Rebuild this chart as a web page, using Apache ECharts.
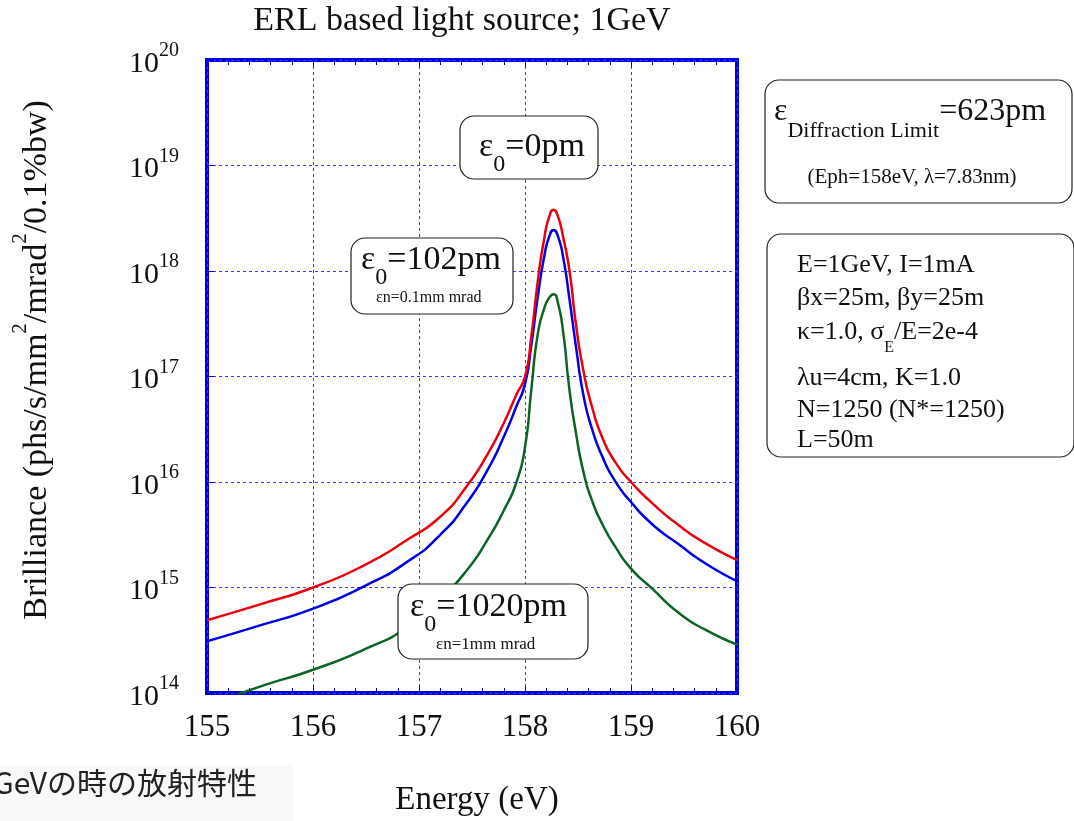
<!DOCTYPE html>
<html lang="en">
<head>
    <meta charset="UTF-8">
    <title>ERL based light source</title>
    <script src="https://cdn.jsdelivr.net/npm/echarts@6/dist/echarts.min.js"></script>
    <style>
        html, body { margin: 0; padding: 0; background: #fff; }
        #main { width: 1074px; height: 821px; }
    </style>
</head>
<body>
<div id="main"></div>
<script type="text/javascript">
    // photon energy (eV), shared by the three curves
    var energy = [155, 155.5, 156, 156.5, 156.9, 157.2, 157.45, 157.65, 157.8, 157.92, 158.0, 158.06, 158.12,
        158.18, 158.23, 158.27, 158.31, 158.36, 158.42, 158.48, 158.55, 158.63, 158.73, 158.85, 159.0, 159.2,
        159.45, 159.7, 160];

    // brilliance (phs/s/mm2/mrad2/0.1%bw)
    var eps0pm = [4.9e14, 6.92e14, 1.0e15, 1.66e15, 2.88e15, 4.68e15, 9.12e15, 1.86e16, 3.63e16, 6.76e16, 1.0e17,
        2.4e17, 7.94e17, 2.0e18, 3.31e18, 3.8e18, 3.31e18, 2.09e18, 1.0e18, 3.16e17, 1.15e17, 5.25e16, 2.63e16,
        1.55e16, 1.0e16, 6.31e15, 3.89e15, 2.63e15, 1.82e15];
    var eps102pm = [3.09e14, 4.37e14, 6.31e14, 1.05e15, 1.78e15, 3.16e15, 6.31e15, 1.32e16, 2.69e16, 5.25e16, 8.51e16,
        2.0e17, 5.62e17, 1.35e18, 2.14e18, 2.45e18, 2.14e18, 1.35e18, 5.37e17, 1.95e17, 6.76e16, 3.24e16, 1.74e16,
        1.02e16, 6.46e15, 3.98e15, 2.57e15, 1.7e15, 1.15e15];
    var eps1020pm = [7.59e13, 1.15e14, 1.66e14, 2.63e14, 4.27e14, 7.76e14, 1.45e15, 2.88e15, 5.37e15, 1.0e16, 2.14e16,
        7.59e16, 2.51e17, 4.37e17, 5.62e17, 6.03e17, 5.01e17, 2.63e17, 7.41e16, 2.95e16, 1.26e16, 6.76e15, 3.98e15,
        2.45e15, 1.51e15, 9.77e14, 5.75e14, 3.98e14, 2.88e14];

    var serif = '"Liberation Serif", "Times New Roman", serif';
    var blue = '#0000d8';
    var gridBlue = '#3a3aff';

    function pairs(ys) {
        return energy.map(function (x, i) { return [x, ys[i]]; });
    }

    // rounded annotation box
    function box(x, y, w, h) {
        return {
            type: 'rect', z: 100,
            shape: {x: x, y: y, width: w, height: h, r: 14},
            style: {fill: '#fff', stroke: '#222', lineWidth: 1.2}
        };
    }

    // text with a subscript part, y is the top of the line
    function subText(x, y, str, size, subSize, subDrop) {
        return {
            type: 'text', z: 101, x: x, y: y,
            style: {
                text: str,
                align: 'left', verticalAlign: 'top',
                fill: '#111',
                rich: {
                    m: {fontFamily: serif, fontSize: size, lineHeight: size, verticalAlign: 'top'},
                    s: {
                        fontFamily: serif, fontSize: subSize,
                        lineHeight: size / 2 + subDrop + subSize / 2, verticalAlign: 'bottom'
                    }
                }
            }
        };
    }

    function plain(x, y, str, size, align) {
        return {
            type: 'text', z: 101, x: x, y: y,
            style: {
                text: str, fill: '#111',
                font: size + 'px ' + serif,
                align: align || 'left', verticalAlign: 'middle'
            }
        };
    }

    var myChart = echarts.init(document.getElementById('main'));

    var xAxisBase = {
        type: 'value', min: 155, max: 160, interval: 1,
        axisLine: {show: false},
        axisTick: {show: true, inside: true, length: 7, lineStyle: {color: blue, width: 1}},
        minorTick: {show: true, splitNumber: 5, length: 5, lineStyle: {color: blue, width: 1}},
        splitLine: {show: false}
    };

    var option = {
        backgroundColor: '#fff',
        animation: false,
        grid: {
            left: 207, right: 337, top: 60, bottom: 128,
            show: true, borderColor: blue, borderWidth: 4, backgroundColor: 'transparent'
        },
        xAxis: [
            Object.assign({}, xAxisBase, {
                position: 'bottom',
                axisLabel: {color: '#111', fontFamily: serif, fontSize: 31, margin: 19},
                splitLine: {show: true, lineStyle: {color: gridBlue, width: 1, type: [3, 3]}}
            }),
            Object.assign({}, xAxisBase, {
                position: 'top',
                axisLabel: {show: false}
            })
        ],
        yAxis: {
            type: 'log', logBase: 10, min: 1e14, max: 1e20, splitNumber: 6,
            axisLine: {show: false},
            axisTick: {show: true, inside: true, length: 7, lineStyle: {color: blue}},
            splitLine: {show: true, lineStyle: {color: gridBlue, width: 1, type: [3, 3]}},
            axisLabel: {
                margin: 28,
                formatter: function (v) {
                    return '{b|10}{s|' + Math.round(Math.log10(v)) + '}';
                },
                rich: {
                    b: {fontFamily: serif, fontSize: 30, lineHeight: 38, verticalAlign: 'bottom', color: '#111'},
                    s: {fontFamily: serif, fontSize: 20, lineHeight: 20, verticalAlign: 'top', color: '#111'}
                }
            }
        },
        series: [
            {
                name: 'ε0=1020pm', type: 'line', data: pairs(eps1020pm),
                showSymbol: false, smooth: 0.6, clip: true,
                lineStyle: {color: '#0c6424', width: 2.5}
            },
            {
                name: 'ε0=102pm', type: 'line', data: pairs(eps102pm),
                showSymbol: false, smooth: 0.6, clip: true,
                lineStyle: {color: '#0000e6', width: 2.5}
            },
            {
                name: 'ε0=0pm', type: 'line', data: pairs(eps0pm),
                showSymbol: false, smooth: 0.6, clip: true,
                lineStyle: {color: '#e8000e', width: 2.5}
            }
        ],
        graphic: [
            // title and axis names
            plain(462, 21, 'ERL based light source; 1GeV', 34, 'center'),
            plain(477, 800, 'Energy (eV)', 33, 'center'),
            {
                type: 'text', z: 101, x: 32, y: 360, rotation: Math.PI / 2,
                style: {
                    text: '{a|Brilliance (phs/s/mm}{s|2}{a|/mrad}{s|2}{a|/0.1%bw)}',
                    align: 'center', verticalAlign: 'middle', fill: '#111',
                    rich: {
                        a: {fontFamily: serif, fontSize: 34, lineHeight: 44, verticalAlign: 'bottom'},
                        s: {fontFamily: serif, fontSize: 21, lineHeight: 21, verticalAlign: 'top'}
                    }
                }
            },

            // emittance labels
            box(460, 116, 138, 63),
            subText(479, 130, '{m|ε}{s|0}{m|=0pm}', 34, 24, 18),

            box(351, 238, 162, 76),
            subText(361, 243, '{m|ε}{s|0}{m|=102pm}', 34, 24, 18),
            plain(376, 298, 'εn=0.1mm mrad', 16),

            box(398, 584, 190, 75),
            subText(410, 590, '{m|ε}{s|0}{m|=1020pm}', 34, 24, 18),
            plain(436, 645, 'εn=1mm mrad', 17),

            // diffraction limit box
            box(765, 80, 307, 123),
            subText(774, 96, '{m|ε}{s|Diffraction Limit}{m|=623pm}', 32, 22, 19),
            plain(912, 177, '(Eph=158eV, λ=7.83nm)', 21, 'center'),

            // machine parameters box
            box(767, 234, 307, 223),
            plain(797, 265, 'E=1GeV, I=1mA', 26),
            plain(797, 298, 'βx=25m, βy=25m', 26),
            subText(797, 319, '{m|κ=1.0, σ}{s|E}{m|/E=2e-4}', 26, 16, 16),
            plain(797, 378, 'λu=4cm, K=1.0', 26),
            plain(797, 410, 'N=1250 (N*=1250)', 26),
            plain(797, 440, 'L=50m', 26),

            // caption strip bottom left
            {
                type: 'rect', z: 1,
                shape: {x: 0, y: 765, width: 293, height: 56},
                style: {fill: '#f9f9f9'}
            },
            {
                type: 'text', z: 2, x: 257, y: 783,
                style: {
                    text: 'GeVの時の放射特性',
                    font: '30px "Noto Sans CJK JP", sans-serif',
                    fill: '#222', align: 'right', verticalAlign: 'middle'
                }
            }
        ]
    };

    myChart.setOption(option);
</script>
</body>
</html>
